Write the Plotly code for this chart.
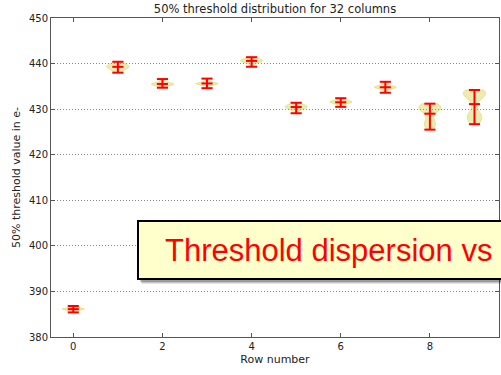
import plotly.graph_objects as go

rows = [0, 1, 2, 3, 4, 5, 6, 7, 8, 9]
row_values = [
    [385.4, 385.7, 385.8, 385.9, 386.0, 386.0, 386.1, 386.1, 386.1, 386.2, 386.2, 386.3, 386.3, 386.4, 386.6, 386.8],
    [438.0, 438.4, 438.6, 438.8, 438.9, 439.1, 439.2, 439.3, 439.3, 439.4, 439.5, 439.7, 439.8, 440.0, 440.2, 440.4],
    [434.7, 435.0, 435.1, 435.2, 435.3, 435.4, 435.4, 435.5, 435.5, 435.6, 435.6, 435.7, 435.8, 435.9, 436.1, 436.6],
    [434.6, 435.2, 435.3, 435.4, 435.5, 435.5, 435.6, 435.6, 435.6, 435.7, 435.7, 435.8, 435.9, 436.0, 436.2, 436.7],
    [439.3, 439.9, 440.1, 440.3, 440.4, 440.5, 440.5, 440.6, 440.6, 440.7, 440.8, 440.9, 441.0, 441.1, 441.2, 441.4],
    [429.1, 429.7, 429.9, 430.1, 430.2, 430.3, 430.4, 430.5, 430.5, 430.6, 430.7, 430.8, 430.9, 431.0, 431.2, 431.4],
    [430.5, 430.9, 431.1, 431.2, 431.3, 431.4, 431.5, 431.5, 431.6, 431.6, 431.7, 431.7, 431.8, 431.9, 432.0, 432.4],
    [433.6, 434.1, 434.3, 434.5, 434.6, 434.7, 434.7, 434.8, 434.8, 434.9, 435.0, 435.0, 435.1, 435.3, 435.5, 436.0],
    [431.2, 430.9, 430.7, 430.5, 430.4, 430.3, 430.2, 430.0, 429.8, 429.5, 428.0, 427.3, 426.9, 426.6, 426.2, 425.5],
    [434.2, 434.0, 433.8, 433.6, 433.5, 433.3, 433.1, 432.6, 432.0, 430.0, 428.9, 428.5, 428.2, 427.9, 427.4, 426.7],
]
x_ticks = [0, 2, 4, 6, 8]
y_ticks = [380, 390, 400, 410, 420, 430, 440, 450]

title_text = "50% threshold distribution for 32 columns"
x_title = "Row number"
y_title = "50% threshold value in e-"
overlay_text = "Threshold dispersion vs"

bandwidths = [None, None, None, None, None, None, None, None, 0.9, 1.0]
violin_width = 0.5
cap_half = 0.125

fig = go.Figure()
for r, vals, bw in zip(rows, row_values, bandwidths):
    kw = {}
    if bw is not None:
        kw["bandwidth"] = bw
    fig.add_trace(go.Violin(
        x=[r] * len(vals), y=vals, width=violin_width, scalemode="width",
        spanmode="hard", points=False, box_visible=False, meanline_visible=False,
        fillcolor="rgba(191,191,0,0.3)", line=dict(color="rgba(191,191,0,0.3)", width=1),
        hoverinfo="skip", showlegend=False, **kw))

lx, ly = [], []
for r, vals in zip(rows, row_values):
    lo, hi = min(vals), max(vals)
    mean = sum(vals) / len(vals)
    lx += [r, r, None]
    ly += [lo, hi, None]
    for yv in (lo, hi, mean):
        lx += [r - cap_half, r + cap_half, None]
        ly += [yv, yv, None]
fig.add_trace(go.Scatter(x=lx, y=ly, mode="lines", line=dict(color="red", width=2),
                         hoverinfo="skip", showlegend=False))

L, R, T, B = 51, 2, 18, 38
W, H = 501, 375
pw, ph = W - L - R, H - T - B

def px(xp):
    return (xp - L) / pw

def py(yp):
    return (H - B - yp) / ph

shapes = []
for off, a in [(5, 0.10), (4, 0.15), (3, 0.2)]:
    shapes.append(dict(type="rect", xref="paper", yref="paper",
                       x0=px(137 + off), x1=px(520), y0=py(279 + off), y1=py(221 + off),
                       line=dict(width=0), fillcolor=f"rgba(0,0,0,{a})", layer="above"))
shapes.append(dict(type="rect", xref="paper", yref="paper",
                   x0=px(138), x1=px(520), y0=py(279), y1=py(221),
                   line=dict(color="black", width=2), fillcolor="#ffffcc", layer="above"))

fig.update_layout(
    width=W, height=H, margin=dict(l=L, r=R, t=T, b=B),
    paper_bgcolor="white", plot_bgcolor="white",
    violinmode="overlay",
    font=dict(family="DejaVu Sans", size=10, color="#222"),
    title=dict(text=title_text, x=0.5, xref="paper", y=1 - 9 / H, yref="container",
               xanchor="center", yanchor="middle", font=dict(size=11.5, color="#222")),
    shapes=shapes,
    annotations=[dict(text=overlay_text, xref="paper", yref="paper", x=px(163), y=py(250),
                      xanchor="left", yanchor="middle", showarrow=False,
                      font=dict(family="Liberation Sans", size=31, color="red"))],
)
fig.update_xaxes(range=[-0.5, 9.55], tickvals=x_ticks, ticks="inside", ticklen=4,
                 tickcolor="#555", mirror="allticks", showline=True, linecolor="#555",
                 linewidth=1, showgrid=False, zeroline=False,
                 title=dict(text=x_title, font=dict(size=11), standoff=4))
fig.update_yaxes(range=[380, 450], tickvals=y_ticks, ticks="inside", ticklen=4,
                 tickcolor="#555", mirror="allticks", showline=True, linecolor="#555",
                 linewidth=1, showgrid=True, gridcolor="#888", griddash="1px,2px", gridwidth=1,
                 zeroline=False, title=dict(text=y_title, font=dict(size=11), standoff=6))

fig.write_html("out.html")
